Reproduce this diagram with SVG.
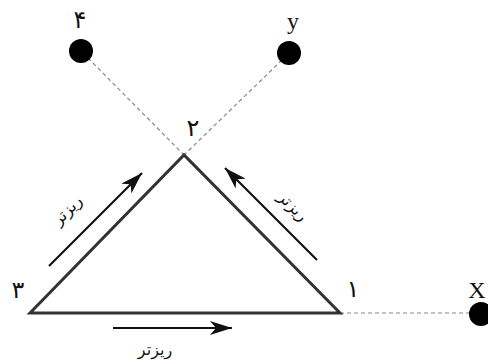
<svg xmlns="http://www.w3.org/2000/svg" width="488" height="362" viewBox="0 0 488 362">
<style>
.dash{stroke:#888;stroke-width:1.2;stroke-dasharray:4 3;fill:none}
.tri{stroke:#333;stroke-width:3;fill:none;stroke-linejoin:miter}
.arr{stroke:#111;stroke-width:2.2;fill:none;marker-end:url(#ah)}
.dot{fill:#000}
.lbl{font-family:"Liberation Serif","DejaVu Sans",serif;font-size:24px;fill:#111;text-anchor:middle}
.fa{font-family:"DejaVu Sans","Noto Sans",sans-serif;font-size:16px;fill:#111;text-anchor:middle}
</style>
<defs>
<marker id="ah" markerWidth="24" markerHeight="14" refX="22" refY="7" orient="auto" markerUnits="userSpaceOnUse">
<path d="M0,0 L22,7 L0,14 L6,7 Z" fill="#111"/>
</marker>
</defs>
<g id="connectors">
<line class="dash" x1="88" y1="58" x2="184" y2="155"/>
<line class="dash" x1="282" y1="60" x2="184" y2="155"/>
<line class="dash" x1="340" y1="313" x2="470" y2="313"/>
<path class="tri" d="M30,313 L184,155 L340,313 Z"/>
<line class="arr" x1="49" y1="266" x2="142" y2="173"/>
<line class="arr" x1="317" y1="260" x2="225" y2="168"/>
<line class="arr" x1="113" y1="328" x2="232" y2="328"/>
</g>
<g id="node4"><circle class="dot" cx="81" cy="51" r="12"/><text class="lbl" x="80" y="28">۴</text></g>
<g id="nodey"><circle class="dot" cx="289" cy="53" r="12"/><text class="lbl" x="293" y="29">y</text></g>
<g id="node2"><text class="lbl" x="193" y="136">۲</text></g>
<g id="node3"><text class="lbl" x="18" y="298">۳</text></g>
<g id="node1"><text class="lbl" x="353" y="297">۱</text></g>
<g id="nodex"><circle class="dot" cx="481" cy="314" r="12"/><text class="lbl" x="477" y="298">X</text></g>
<g id="labels">
<text class="fa" transform="translate(71,214) rotate(-45)">ریزتر</text>
<text class="fa" transform="translate(289,210) rotate(45)">ریزتر</text>
<text class="fa" x="155" y="355">ریزتر</text>
</g>
</svg>
